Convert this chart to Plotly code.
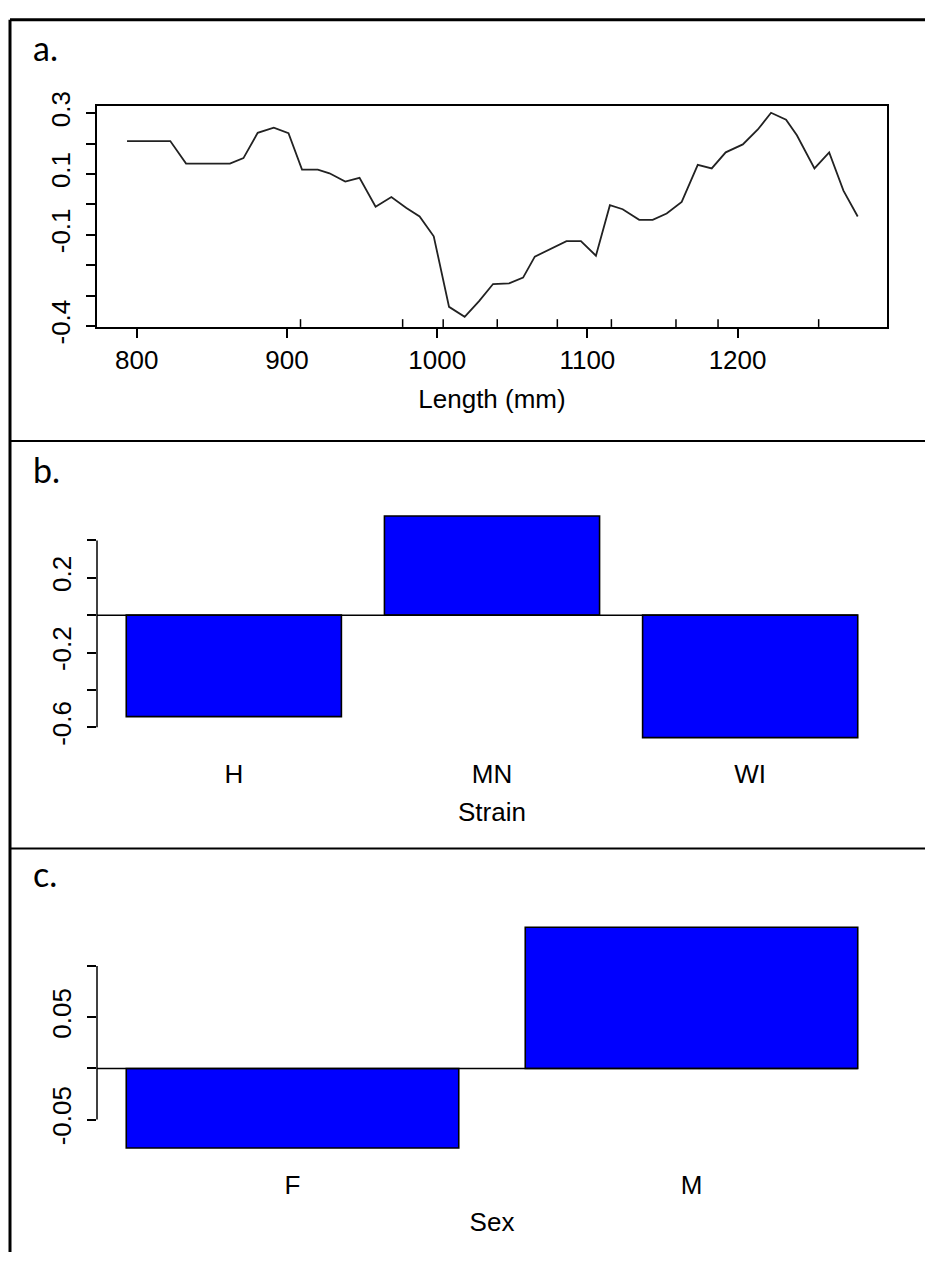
import plotly.graph_objects as go

# ---------------- data ----------------
length_mm = [793.5, 822.3, 832.8, 862, 871, 880.5, 891.2, 901, 910, 920.5, 928.3, 938.8,
             948.3, 959, 969.5, 979.5, 988.3, 997.7, 1007.9, 1018.3, 1027.9, 1037.2,
             1047.9, 1057.2, 1065, 1076.1, 1086.1, 1095.7, 1105.7, 1115, 1123.5, 1134.5,
             1143.5, 1152.8, 1162.8, 1173.5, 1182.8, 1192.1, 1203.5, 1213.5, 1222.3,
             1232.3, 1239.5, 1251.2, 1261, 1270.5, 1280]
length_effect = [0.208, 0.208, 0.134, 0.134, 0.152, 0.235, 0.252, 0.234, 0.114, 0.114,
                 0.102, 0.075, 0.087, -0.008, 0.024, -0.012, -0.040, -0.105, -0.337,
                 -0.370, -0.318, -0.262, -0.260, -0.241, -0.172, -0.145, -0.121, -0.121,
                 -0.169, -0.003, -0.016, -0.051, -0.051, -0.030, 0.008, 0.130, 0.118,
                 0.171, 0.197, 0.246, 0.301, 0.278, 0.227, 0.118, 0.171, 0.045, -0.040]
rug_mm = [909, 977, 1004, 1040, 1080, 1116, 1159, 1187, 1254]

a_xticks = [800, 900, 1000, 1100, 1200]
a_yticks = [-0.4, -0.3, -0.2, -0.1, 0.0, 0.1, 0.2, 0.3]
a_ytext = ["-0.4", "", "", "-0.1", "", "0.1", "", "0.3"]

strain = ["H", "MN", "WI"]
strain_effect = [-0.543, 0.531, -0.655]
b_yticks = [-0.6, -0.4, -0.2, 0.0, 0.2, 0.4]
b_ytext = ["-0.6", "", "-0.2", "", "0.2", ""]

sex = ["F", "M"]
sex_effect = [-0.0777, 0.138]
c_yticks = [-0.05, 0.0, 0.05, 0.10]
c_ytext = ["-0.05", "", "0.05", ""]

# ---------------- layout helpers ----------------
W, H = 925, 1270
def px(x):
    return x / W
def py(y):
    return 1 - y / H

AX_FONT = dict(family="Liberation Sans, Arial, sans-serif", size=26, color="black")
LAB_FONT = dict(family="Lato, Open Sans, sans-serif", size=34, color="black")
BLUE = "#0000FF"
xdom = [px(97), px(887)]

fig = go.Figure()

# panel a
fig.add_trace(go.Scatter(x=length_mm, y=length_effect, mode="lines",
                         line=dict(color="#222222", width=1.8),
                         xaxis="x", yaxis="y", showlegend=False, hoverinfo="skip"))
# panel b
fig.add_trace(go.Bar(x=strain, y=strain_effect, width=1 / 1.2,
                     marker=dict(color=BLUE, line=dict(color="black", width=1.6)),
                     xaxis="x2", yaxis="y2", showlegend=False))
# panel c
fig.add_trace(go.Bar(x=sex, y=sex_effect, width=1 / 1.2,
                     marker=dict(color=BLUE, line=dict(color="black", width=1.6)),
                     xaxis="x3", yaxis="y3", showlegend=False))

common_y = dict(ticks="outside", ticklen=9, tickwidth=1.5, tickcolor="black",
                tickangle=-90, tickfont=AX_FONT, showgrid=False, zeroline=False,
                ticklabelstandoff=6)

fig.update_layout(
    width=W, height=H, margin=dict(l=0, r=0, t=0, b=0),
    paper_bgcolor="white", plot_bgcolor="white",
    xaxis=dict(domain=xdom, range=[773.5, 1299.5], tickvals=a_xticks,
               ticks="outside", ticklen=9, tickwidth=1.5, tickcolor="black",
               tickfont=AX_FONT, showline=True, linecolor="black", linewidth=1.5,
               mirror=True, showgrid=False, zeroline=False, anchor="y",
               title=dict(text="Length (mm)", font=AX_FONT, standoff=16)),
    yaxis=dict(domain=[py(321), py(94)], range=[-0.403, 0.3245], tickvals=a_yticks,
               ticktext=a_ytext, showline=True, linecolor="black", linewidth=1.5,
               mirror=True, anchor="x", **common_y),
    xaxis2=dict(domain=xdom, range=[-0.53, 2.53], showline=False, showgrid=False,
                zeroline=False, ticks="", tickfont=AX_FONT, anchor="y2",
                ticklabelstandoff=10,
                title=dict(text="Strain", font=AX_FONT, standoff=14)),
    yaxis2=dict(domain=[py(751.3), py(505.9)], range=[-0.702, 0.578], tickvals=b_yticks,
                ticktext=b_ytext, showline=False, anchor="x2", **common_y),
    xaxis3=dict(domain=xdom, range=[-0.49, 1.49], showline=False, showgrid=False,
                zeroline=False, ticks="", tickfont=AX_FONT, anchor="y3",
                ticklabelstandoff=10,
                title=dict(text="Sex", font=AX_FONT, standoff=14)),
    yaxis3=dict(domain=[py(1172.3), py(927.8)], range=[-0.0863, 0.1466], tickvals=c_yticks,
                ticktext=c_ytext, showline=False, anchor="x3", **common_y),
)

shapes = []
# rug marks on panel a
for r in rug_mm:
    shapes.append(dict(type="line", xref="x", yref="y domain", x0=r, x1=r, y0=0, y1=0.035,
                       line=dict(color="black", width=1.5)))
# y axis lines (only spanning ticks) for bar panels
shapes.append(dict(type="line", xref="x2 domain", yref="y2", x0=0, x1=0,
                   y0=min(b_yticks), y1=max(b_yticks), line=dict(color="black", width=1.5)))
shapes.append(dict(type="line", xref="x3 domain", yref="y3", x0=0, x1=0,
                   y0=min(c_yticks), y1=max(c_yticks), line=dict(color="black", width=1.5)))
# zero reference lines up to the right edge of the last bar
shapes.append(dict(type="line", xref="x2", yref="y2", x0=-0.53, x1=len(strain) - 1 + 0.5 / 1.2,
                   y0=0, y1=0, line=dict(color="black", width=1.5)))
shapes.append(dict(type="line", xref="x3", yref="y3", x0=-0.49, x1=len(sex) - 1 + 0.5 / 1.2,
                   y0=0, y1=0, line=dict(color="black", width=1.5)))
# outer frame and panel separators
shapes.append(dict(type="line", xref="paper", yref="paper", x0=px(10), x1=px(10), y0=0, y1=py(6),
                   line=dict(color="black", width=3)))
shapes.append(dict(type="line", xref="paper", yref="paper", x0=px(10), x1=1, y0=py(6), y1=py(6),
                   line=dict(color="black", width=3)))
for sep in (438, 856):
    shapes.append(dict(type="line", xref="paper", yref="paper", x0=px(10), x1=1,
                       y0=py(sep), y1=py(sep), line=dict(color="black", width=2)))
fig.update_layout(shapes=shapes)

# panel letters
for txt, ycen in (("a.", 34), ("b.", 467), ("c.", 882)):
    fig.add_annotation(text=txt, xref="paper", yref="paper", x=px(31), y=py(ycen),
                       xanchor="left", yanchor="middle", showarrow=False, font=LAB_FONT)

fig.write_html("out.html")
